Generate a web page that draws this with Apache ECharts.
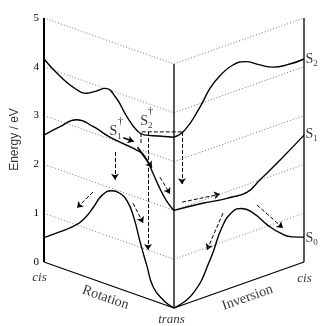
<!DOCTYPE html>
<html><head><meta charset="utf-8">
<script src="https://cdn.jsdelivr.net/npm/echarts@6/dist/echarts.min.js"></script>
<style>html,body{margin:0;padding:0;background:#fff}#c{width:320px;height:326px}</style>
</head><body><div id="c"></div>
<script>
// ---- data (energies in eV) ----
// Rotation panel: t = 0 (cis) ... 1 (trans)
const rotS2 = [[0,4.16],[0.12,3.93],[0.25,3.77],[0.33,3.77],[0.4,3.88],[0.47,4.0],[0.55,3.9],[0.64,3.57],[0.72,3.36],[0.77,3.33],[0.88,3.41],[1,3.5]];
const rotS1 = [[0,2.6],[0.12,2.88],[0.25,3.15],[0.38,3.13],[0.5,3.04],[0.61,3.0],[0.72,2.96],[0.76,2.93],[0.8,2.8],[0.84,2.6],[0.88,2.4],[0.94,2.15],[1,2.0]];
const rotS0 = [[0,0.5],[0.12,0.73],[0.25,1.0],[0.32,1.22],[0.38,1.48],[0.45,1.8],[0.52,1.95],[0.58,1.96],[0.64,1.85],[0.69,1.57],[0.74,1.1],[0.79,0.68],[0.84,0.28],[0.92,0.08],[1,0]];
// Inversion panel: u = 0 (trans) ... 1 (cis)
const invS2 = [[0,3.5],[0.085,3.57],[0.2,3.93],[0.28,4.25],[0.35,4.42],[0.45,4.55],[0.55,4.53],[0.66,4.36],[0.76,4.22],[0.89,4.16],[1,4.16]];
const invS1 = [[0,2.0],[0.22,1.94],[0.35,1.88],[0.43,1.86],[0.56,1.84],[0.66,2.0],[0.82,2.27],[1,2.6]];
const invS0 = [[0,0],[0.15,0.17],[0.28,0.74],[0.37,1.31],[0.45,1.55],[0.52,1.55],[0.61,1.37],[0.72,1.02],[0.82,0.76],[0.91,0.6],[1,0.51]];
// energy guide levels and tick labels
const guideLevels = [1,2,3,4,5];
const energyTicks = [0,1,2,3,4,5];
const eMin = 0, eMax = 5;
// arrows: [panel, coordinate, energy]
const dashedArrows = [
  [['r',0.546,2.77],['r',0.546,2.20]],
  [['r',0.377,1.79],['r',0.254,1.35]],
  [['r',0.685,1.85],['r',0.762,1.52]],
  [['r',0.892,2.58],['r',0.969,2.31]],
  [['r',0.8,3.42],['r',0.8,1.0]],
  [['i',0.0615,3.55],['i',0.0615,2.48]],
  [['i',0.0615,2.11],['i',0.354,2.0]],
  [['i',0.377,1.59],['i',0.254,0.95]],
  [['i',0.638,1.51],['i',0.838,0.85]]
];
const dashedPath = [['r',0.746,3.14],['r',0.746,3.37],['i',0.0615,3.55]];
const solidArrows = [
  [['r',0.61,3.12],['r',0.69,3.12]],
  [['r',0.72,3.03],['r',0.83,2.72]]
];

// ---- projection of the folded (pseudo-3D) panels onto one cartesian grid ----
const K = 46/48.8; // apparent energy drop of the panel base towards trans
function P(panel, c, E){ return panel==='r' ? [c, E - K*c] : [1 + c, E - K*(1 - c)]; }
const rotP = a => a.map(d => P('r', d[0], d[1]));
const invP = a => a.map(d => P('i', d[0], d[1]));
const ptP = p => P(p[0], p[1], p[2]);

const FONT = 'Liberation Serif';
const SANS = 'Liberation Sans';
const series = [];
const blk = '#000';
// guides
guideLevels.forEach(L => {
  ['r','i'].forEach(pn => {
    series.push({type:'line', data:[P(pn,0,L), P(pn,1,L)], showSymbol:false, silent:true,
      lineStyle:{color:'#777', width:1, type:[1,2]}});
  });
});
// frame
const frame = (d, w) => series.push({type:'line', data:d, showSymbol:false, silent:true, lineStyle:{color:blk, width:w}});
frame([P('r',0,eMin), P('r',0,eMax)], 2);
frame([P('r',1,eMin), P('r',1,eMax)], 1.3);
frame([P('i',1,eMin), P('i',1,eMax)], 1.3);
frame([P('r',0,eMin), P('r',1,eMin), P('i',1,eMin)], 1.3);
// curves
const curve = d => series.push({type:'line', data:d, smooth:0.5, showSymbol:false, silent:true, lineStyle:{color:blk, width:1.4}});
[rotS2, rotS1, rotS0].forEach(c => curve(rotP(c)));
[invS2, invS1, invS0].forEach(c => curve(invP(c)));
// dashed path
series.push({type:'line', data:dashedPath.map(ptP), showSymbol:false, silent:true, lineStyle:{color:blk, width:1, type:[4,2]}});
// arrows
series.push({type:'lines', coordinateSystem:'cartesian2d', silent:true, symbol:['none','arrow'], symbolSize:6,
  lineStyle:{color:blk, width:1, type:[4,2], opacity:1},
  data: dashedArrows.map(a => ({coords: a.map(ptP)}))});
series.push({type:'lines', coordinateSystem:'cartesian2d', silent:true, symbol:['none','arrow'], symbolSize:6,
  lineStyle:{color:blk, width:1.6, opacity:1},
  data: solidArrows.map(a => ({coords: a.map(ptP)}))});

// text annotations (axis coordinates)
const rich = {
  s:{fontFamily:FONT, fontSize:14, lineHeight:18, color:blk},
  b:{fontFamily:FONT, fontSize:9, lineHeight:18, verticalAlign:'bottom', color:blk}
};
function lab(pos, text, opt){
  return {value:pos, label:Object.assign({show:true, formatter:text, position:[0,0], align:'center', verticalAlign:'middle', fontFamily:FONT, color:blk, fontSize:13, rich:rich}, opt||{})};
}
series.push({type:'scatter', symbolSize:1, clip:false, silent:true, itemStyle:{color:'rgba(0,0,0,0)'},
  data:[
    lab([-0.223,2.5], 'Energy / eV', {rotate:90, fontFamily:SANS, fontSize:12}),
    lab([-0.031,-0.33], 'cis', {fontStyle:'italic'}),
    lab([0.477,-0.74], 'Rotation', {rotate:-19.5, fontSize:14}),
    lab([0.985,-1.19], 'trans', {fontStyle:'italic'}),
    lab([1.569,-0.74], 'Inversion', {rotate:19.5, fontSize:14}),
    lab([2.008,-0.35], 'cis', {fontStyle:'italic'}),
    lab([2.015,4.14], '{s|S}{b|2}', {align:'left'}),
    lab([2.015,2.60], '{s|S}{b|1}', {align:'left'}),
    lab([2.015,0.47], '{s|S}{b|0}', {align:'left'}),
    lab([0.554,2.66], '{s|S}{b|1}', {}),
    lab([0.592,2.87], '†', {fontSize:11}),
    lab([0.792,2.87], '{s|S}{b|2}', {}),
    lab([0.823,3.09], '†', {fontSize:11})
  ]});

const chart = echarts.init(document.getElementById('c'), null, {renderer:'canvas'});
chart.setOption({
  animation:false,
  grid:{left:44, right:16, top:18, bottom:15.2},
  xAxis:{type:'value', min:0, max:2, show:false},
  yAxis:{type:'value', min:-1, max:5, interval:1,
    axisLine:{show:false}, axisTick:{show:false}, splitLine:{show:false},
    axisLabel:{margin:5, fontFamily:FONT, fontSize:11, color:blk,
      formatter: v => energyTicks.indexOf(v) >= 0 ? String(v) : ''}},
  series: series
});
</script></body></html>
